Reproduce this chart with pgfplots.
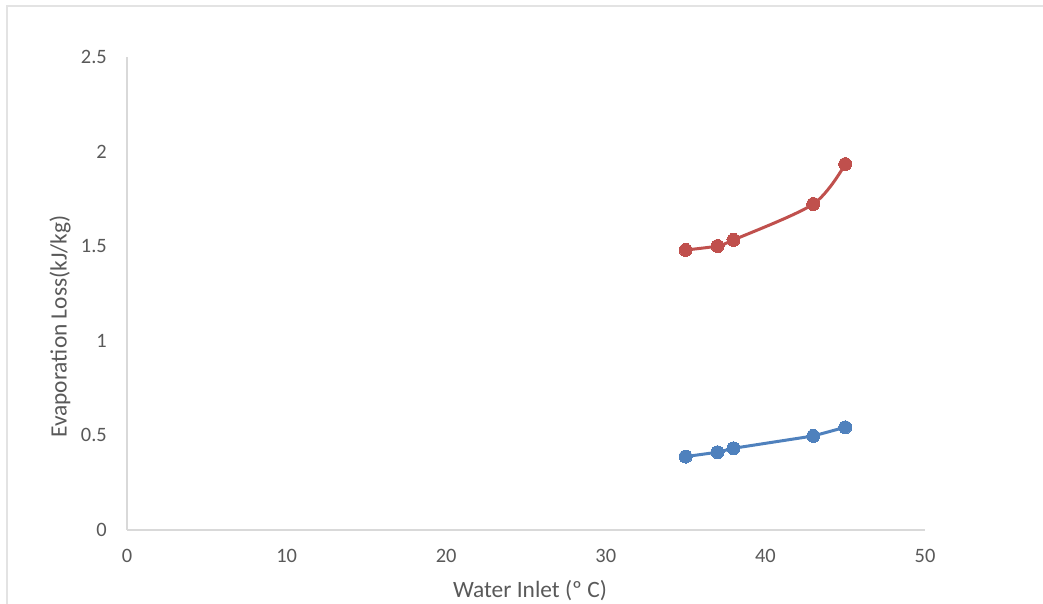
\documentclass[border=0pt]{standalone}
\usepackage{fontspec}
\setmainfont{Carlito}
\usepackage{pgfplots}
\pgfplotsset{compat=1.18}
\definecolor{serblue}{HTML}{4F81BD}
\definecolor{serred}{HTML}{C0504D}
\definecolor{axgray}{HTML}{D9D9D9}
\definecolor{txtgray}{HTML}{595959}
\definecolor{framegray}{HTML}{E3E3E3}
\begin{document}
\begin{tikzpicture}[x=1bp,y=1bp]
\path[use as bounding box] (0,0) rectangle (1043,604);
\draw[framegray, line width=2bp] (7,0) -- (7,598) -- (1043,598);
\begin{axis}[
  at={(127bp,74bp)}, anchor=origin,
  scale only axis, width=798bp, height=473bp,
  xmin=0, xmax=50, ymin=0, ymax=2.5,
  xtick={0,10,...,50}, ytick={0,0.5,...,2.5},
  axis x line*=bottom, axis y line*=left,
  axis line style={axgray, line width=1.5bp, -},
  major tick length=0pt,
  /pgf/number format/assume math mode=true,
  yticklabel style={font=\fontsize{20.5}{20.5}\selectfont, text=txtgray, inner sep=0pt, anchor=east, xshift=-20bp, /pgf/number format/fixed},
  xticklabel style={font=\fontsize{20.5}{20.5}\selectfont, text=txtgray, inner sep=0pt, anchor=north, yshift=-19bp},
  xlabel={Water Inlet (º C)},
  ylabel={Evaporation Loss(kJ/kg)},
  xlabel style={font=\fontsize{23.5}{23.5}\selectfont, text=txtgray, at={(axis description cs:0.505,-0.128)}, anchor=center},
  ylabel style={font=\fontsize{23.5}{23.5}\selectfont, text=txtgray, at={(axis description cs:-0.084,0.43)}, anchor=center},
  clip=false,
]
\addplot[serblue, line width=3bp, mark=*, mark size=6.5bp, mark options={fill=serblue, draw=serblue, line width=0pt}] coordinates {
  (35,0.388) (37,0.411) (38,0.432) (43,0.497) (45,0.543)
};
\addplot[serred, line width=3bp, smooth, tension=0.5, mark=*, mark size=6.5bp, mark options={fill=serred, draw=serred, line width=0pt}] coordinates {
  (35,1.480) (37,1.501) (38,1.533) (43,1.723) (45,1.934)
};
\end{axis}
\end{tikzpicture}
\end{document}
